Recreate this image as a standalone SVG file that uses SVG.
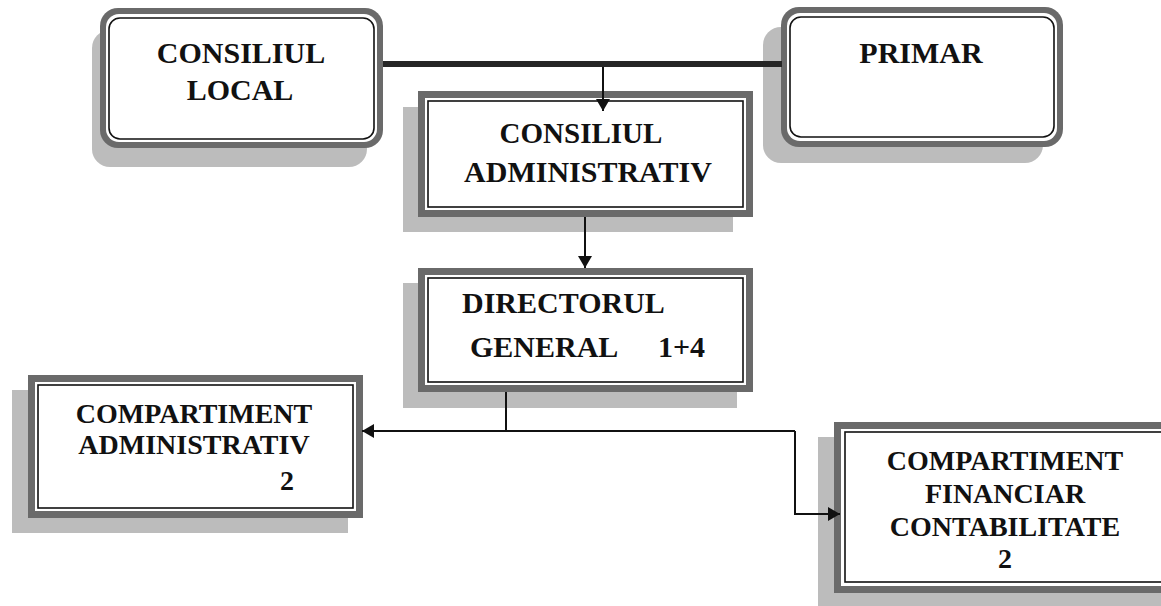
<svg xmlns="http://www.w3.org/2000/svg" width="1161" height="606" viewBox="0 0 1161 606">
<style>
.shadow{fill:#bcbcbc}
.frame{fill:#6a6a6a}
.inner{fill:#ffffff;stroke:#111;stroke-width:1.6}
.gap{fill:#ffffff}
text{font-family:"Liberation Serif","Times New Roman",serif;font-weight:bold;fill:#111}
.t30{font-size:30px}
.t29{font-size:29px}
.t28{font-size:28px}
.mid{text-anchor:middle}
.conn{fill:none;stroke:#111;stroke-width:2}
.thick{fill:none;stroke:#262626;stroke-width:6}
</style>
<defs>
<marker id="arr" markerUnits="userSpaceOnUse" markerWidth="14" markerHeight="14" refX="12" refY="7" orient="auto">
<path d="M0,0 L12,7 L0,14 z" fill="#111"/>
</marker>
</defs>
<rect width="1161" height="606" fill="#ffffff"/>

<g id="consiliul-local">
<rect class="shadow" x="92" y="30" width="275" height="137" rx="18"/>
<rect class="frame" x="100" y="8" width="283" height="140" rx="18"/>
<rect class="gap" x="106" y="14" width="271" height="128" rx="13"/>
<rect class="inner" x="109" y="18" width="265" height="121" rx="11"/>
<text class="t30 mid" x="241" y="63">CONSILIUL</text>
<text class="t30 mid" x="240" y="100">LOCAL</text>
</g>

<g id="primar">
<rect class="shadow" x="763" y="27" width="280" height="136" rx="18"/>
<rect class="frame" x="781" y="7" width="282" height="140" rx="18"/>
<rect class="gap" x="787" y="13" width="270" height="128" rx="13"/>
<rect class="inner" x="790" y="17" width="264" height="120" rx="11"/>
<text class="t30 mid" x="921" y="63">PRIMAR</text>
</g>

<g id="consiliul-administrativ">
<rect class="shadow" x="403" y="107" width="330" height="125"/>
<rect class="frame" x="418" y="91" width="335" height="126"/>
<rect class="gap" x="425" y="98" width="321" height="112"/>
<rect class="inner" x="428" y="101" width="315" height="106"/>
<text class="t29 mid" x="581" y="143">CONSILIUL</text>
<text class="t30 mid" x="588" y="182">ADMINISTRATIV</text>
</g>

<g id="directorul-general">
<rect class="shadow" x="403" y="283" width="334" height="125"/>
<rect class="frame" x="418" y="268" width="335" height="124"/>
<rect class="gap" x="425" y="275" width="321" height="110"/>
<rect class="inner" x="428" y="278" width="315" height="104"/>
<text class="t30" x="462" y="313">DIRECTORUL</text>
<text class="t30" x="470" y="357">GENERAL</text>
<text class="t30" x="705" y="357" text-anchor="end">1+4</text>
</g>

<g id="compartiment-administrativ">
<rect class="shadow" x="12" y="390" width="336" height="143"/>
<rect class="frame" x="28" y="375" width="335" height="143"/>
<rect class="gap" x="35" y="382" width="321" height="129"/>
<rect class="inner" x="38" y="385" width="315" height="123"/>
<text class="t28 mid" x="194" y="423">COMPARTIMENT</text>
<text class="t28 mid" x="194" y="454">ADMINISTRATIV</text>
<text class="t28 mid" x="287" y="490">2</text>
</g>

<g id="compartiment-financiar">
<rect class="shadow" x="818" y="437" width="360" height="180"/>
<rect class="frame" x="834" y="422" width="345" height="171"/>
<rect class="gap" x="841" y="429" width="340" height="157"/>
<rect class="inner" x="845" y="432" width="340" height="150"/>
<text class="t28 mid" x="1005" y="470">COMPARTIMENT</text>
<text class="t28 mid" x="1005" y="503">FINANCIAR</text>
<text class="t28 mid" x="1005" y="536">CONTABILITATE</text>
<text class="t28 mid" x="1005" y="568">2</text>
</g>

<g id="connectors">
<line class="thick" x1="383" y1="64" x2="782" y2="64"/>
<line class="conn" x1="603" y1="67" x2="603" y2="111" marker-end="url(#arr)"/>
<line class="conn" x1="585" y1="217" x2="585" y2="268" marker-end="url(#arr)"/>
<polyline class="conn" points="506,392 506,431"/>
<line class="conn" x1="795" y1="431" x2="362" y2="431" marker-end="url(#arr)"/>
<polyline class="conn" points="795,431 795,514 840,514" marker-end="url(#arr)"/>
</g>
</svg>
